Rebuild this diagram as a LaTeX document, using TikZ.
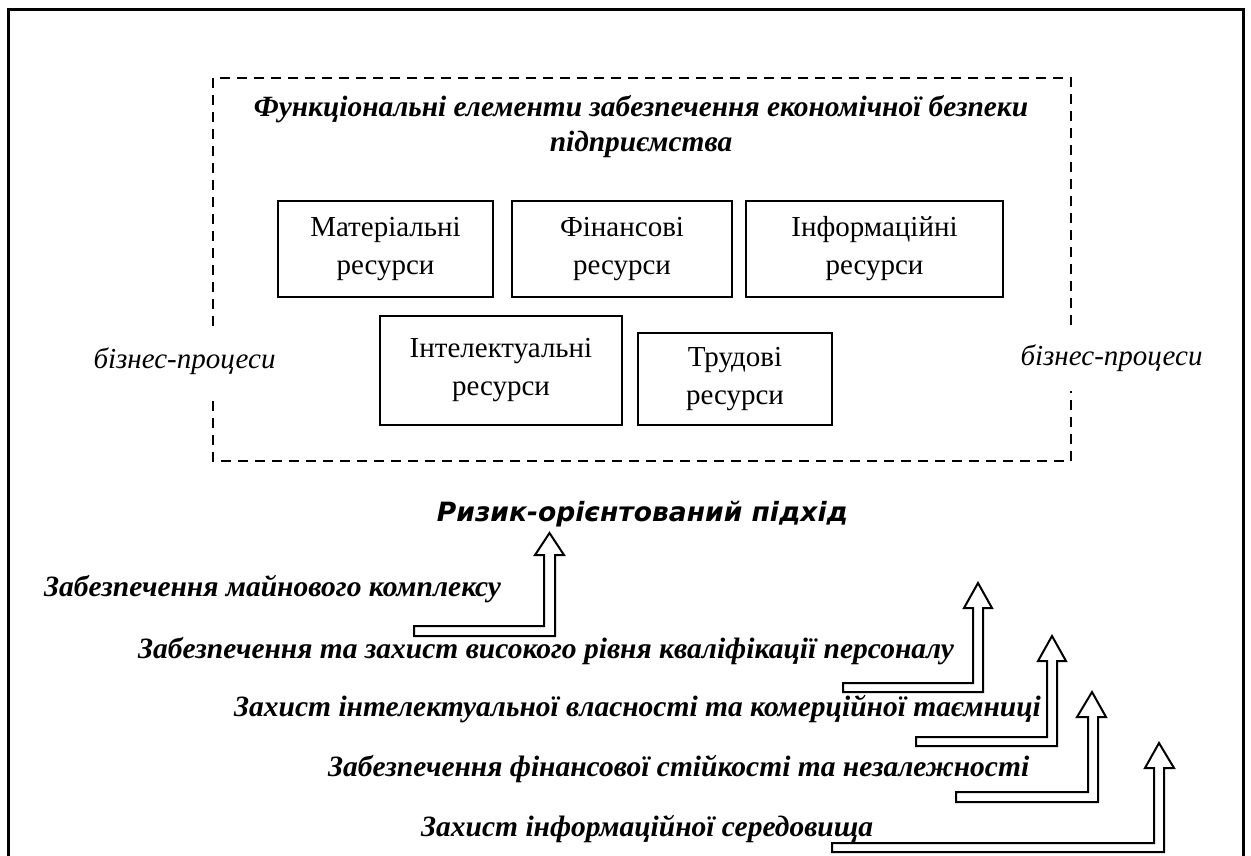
\documentclass[tikz,border=0pt]{standalone}
\usepackage{fontspec}
\setmainfont{Liberation Serif}
\newfontfamily\headfont{DejaVu Sans}
\begin{document}
\begin{tikzpicture}[x=1pt,y=-1pt,
  resbox/.style={draw, line width=2.4pt, inner sep=0pt, align=center,
     font=\fontsize{29}{38}\selectfont},
  itemtxt/.style={anchor=base west, inner sep=0pt,
     font=\fontsize{29.5}{34}\selectfont\bfseries\itshape},
  bptxt/.style={fill=white, inner xsep=4pt, minimum height=66pt,
     font=\fontsize{29}{34}\selectfont\itshape},
  hollow/.style={draw, line width=2pt, fill=white, line join=miter}
]
\useasboundingbox (0,0) rectangle (1251,855);
% outer frame
\draw[line width=3pt] (8.5,856) -- (8.5,9.5) -- (1243.5,9.5) -- (1243.5,856);
% dashed area
\draw[line width=2.3pt, dash pattern=on 10pt off 7pt] (213,78) rectangle (1071,461);
\node[align=center, inner sep=0pt, font=\fontsize{29.4}{35}\selectfont\bfseries\itshape]
  (title) at (641,127) {Функціональні елементи забезпечення економічної безпеки\\підприємства};
% resource boxes
\node[resbox, minimum width=215pt, minimum height=96pt] (mat) at (385.5,249) {Матеріальні\\ресурси};
\node[resbox, minimum width=220pt, minimum height=96pt] (fin) at (622,249) {Фінансові\\ресурси};
\node[resbox, minimum width=257pt, minimum height=96pt] (inf) at (874.5,249) {Інформаційні\\ресурси};
\node[resbox, minimum width=242pt, minimum height=109pt] (int) at (501,370.5) {Інтелектуальні\\ресурси};
\node[resbox, minimum width=194pt, minimum height=92pt] (tru) at (735,379) {Трудові\\ресурси};
% business processes
\node[bptxt] (bpl) at (184.5,361) {бізнес-процеси};
\node[bptxt] (bpr) at (1111.5,358) {бізнес-процеси};
% heading
\node[inner sep=0pt] (risk) at (642.5,514)
  {\resizebox{411pt}{!}{\headfont\bfseries\itshape Ризик-орієнтований підхід}};
% item lines
\node[itemtxt] (l1) at (44,596) {Забезпечення майнового комплексу};
\node[itemtxt] (l2) at (138,658) {Забезпечення та захист високого рівня кваліфікації персоналу};
\node[itemtxt] (l3) at (234,716) {Захист інтелектуальної власності та комерційної таємниці};
\node[itemtxt] (l4) at (328,776) {Забезпечення фінансової стійкості та незалежності};
\node[itemtxt] (l5) at (421,836) {Захист інформаційної середовища};
% hollow arrows: L, a, b, c, d, hb, hl, hr, tip
\def\harrow#1#2#3#4#5#6#7#8#9{%
  \draw[hollow] (#1,#4) -- (#2,#4) -- (#2,#6) -- (#7,#6) -- (#9) -- (#8,#6) -- (#3,#6) -- (#3,#5) -- (#1,#5) -- cycle;}
\coordinate (t1) at (549.5,533);
\coordinate (t2) at (978,583);
\coordinate (t3) at (1052,636);
\coordinate (t4) at (1092,692);
\coordinate (t5) at (1159,743);
\harrow{414}{544}{555}{626}{636}{555}{535}{564}{t1}
\harrow{843}{973}{983}{683}{692}{608}{964}{992}{t2}
\harrow{916}{1047}{1057}{737}{746}{661}{1038}{1066}{t3}
\harrow{956}{1088}{1098}{792}{802}{717}{1077}{1106}{t4}
\harrow{832}{1154}{1164}{843}{852}{768}{1145}{1174}{t5}
\end{tikzpicture}
\end{document}
